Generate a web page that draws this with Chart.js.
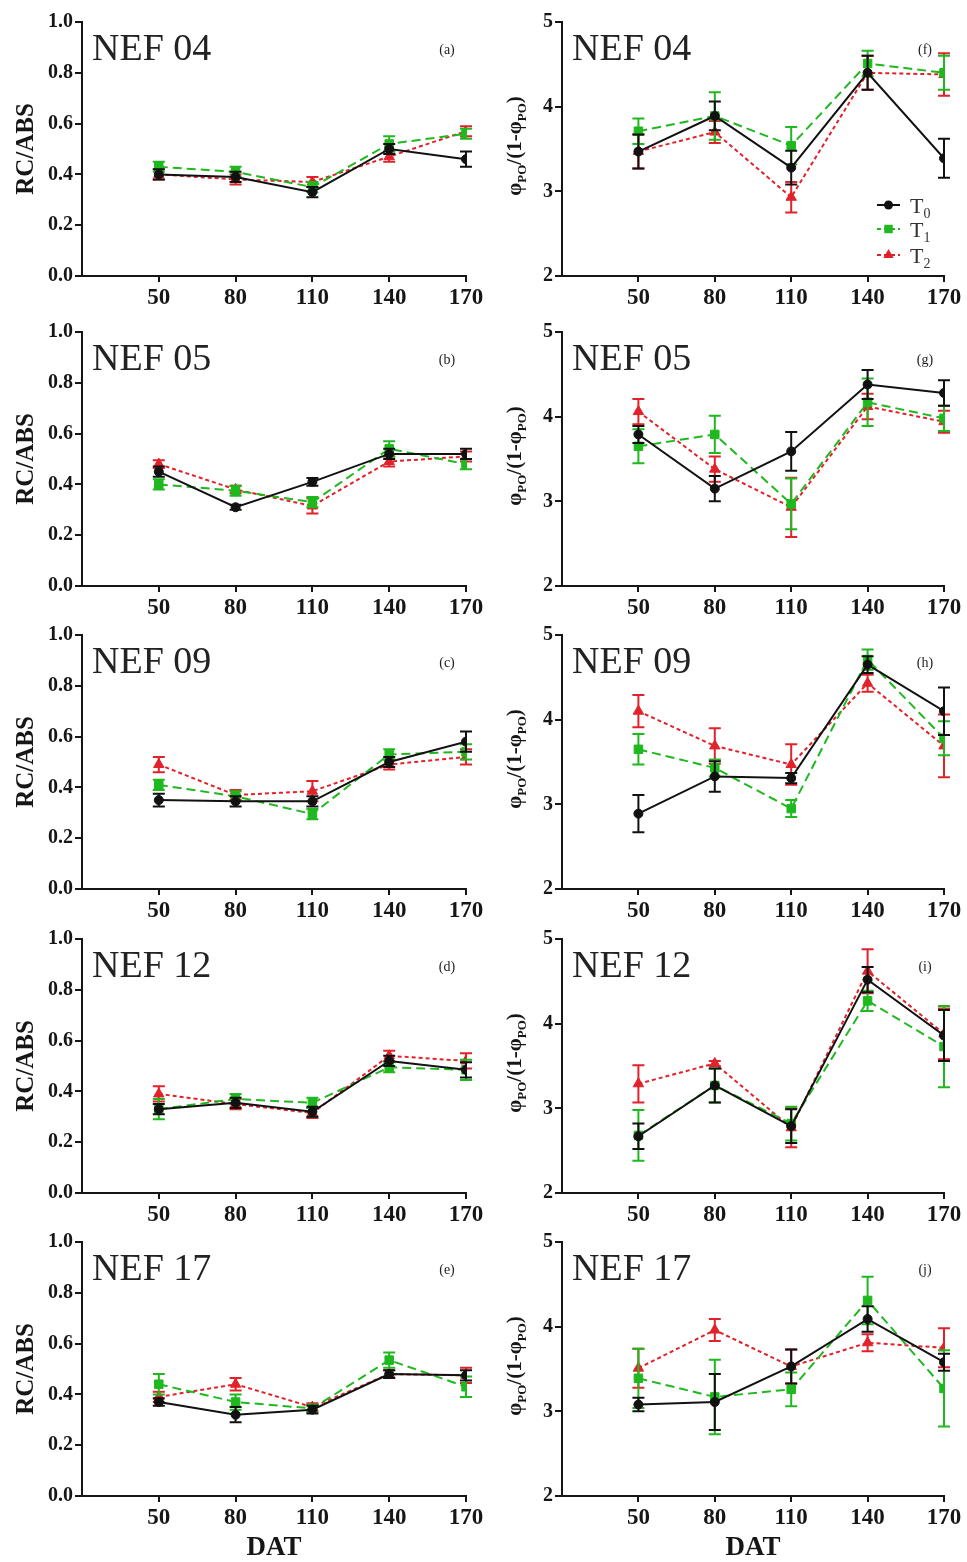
<!DOCTYPE html>
<html>
<head>
<meta charset="utf-8">
<script src="https://cdn.jsdelivr.net/npm/chart.js@4.4.1/dist/chart.umd.min.js"></script>
<style>
  html, body { margin: 0; padding: 0; background: #fff; overflow: hidden; }
  #wrap { position: relative; width: 967px; height: 1562px; background: #fff; }
  #wrap canvas { position: absolute; }
</style>
</head>
<body>
<div id="wrap"></div>
<script>
// ---- data ----
const DAT_TICKS = [50, 80, 110, 140, 170];
const CULTIVARS = ['NEF 04', 'NEF 05', 'NEF 09', 'NEF 12', 'NEF 17'];
const LETTERS_RC = ['(a)', '(b)', '(c)', '(d)', '(e)'];
const LETTERS_PHI = ['(f)', '(g)', '(h)', '(i)', '(j)'];
const TREATMENT_SUBS = ['0', '1', '2'];
const RC_TICKS = [0, 0.2, 0.4, 0.6, 0.8, 1.0];
const PHI_TICKS = [2, 3, 4, 5];

// RC/ABS, one row per cultivar
const RC_T0 = [
  [0.40, 0.39, 0.33, 0.50, 0.46],
  [0.45, 0.31, 0.41, 0.52, 0.52],
  [0.35, 0.345, 0.345, 0.50, 0.58],
  [0.33, 0.355, 0.32, 0.52, 0.485],
  [0.37, 0.32, 0.34, 0.48, 0.475]
];
const RC_T1 = [
  [0.43, 0.41, 0.35, 0.52, 0.56],
  [0.40, 0.375, 0.33, 0.54, 0.48],
  [0.41, 0.365, 0.295, 0.53, 0.54],
  [0.33, 0.37, 0.355, 0.495, 0.485],
  [0.44, 0.37, 0.345, 0.535, 0.43]
];
const RC_T2 = [
  [0.40, 0.38, 0.37, 0.47, 0.57],
  [0.48, 0.38, 0.315, 0.49, 0.51],
  [0.49, 0.37, 0.385, 0.49, 0.52],
  [0.39, 0.35, 0.315, 0.54, 0.52],
  [0.39, 0.44, 0.35, 0.48, 0.475]
];
const RC_T0_ERR = [
  [0.02, 0.02, 0.02, 0.02, 0.03],
  [0.02, 0.01, 0.015, 0.02, 0.02],
  [0.025, 0.02, 0.02, 0.02, 0.04],
  [0.02, 0.02, 0.02, 0.02, 0.03],
  [0.015, 0.03, 0.015, 0.015, 0.02]
];
const RC_T1_ERR = [
  [0.02, 0.02, 0.02, 0.03, 0.02],
  [0.02, 0.02, 0.02, 0.03, 0.02],
  [0.02, 0.02, 0.02, 0.02, 0.03],
  [0.04, 0.02, 0.02, 0.02, 0.04],
  [0.04, 0.03, 0.015, 0.03, 0.04]
];
const RC_T2_ERR = [
  [0.02, 0.02, 0.02, 0.02, 0.02],
  [0.015, 0.015, 0.03, 0.02, 0.02],
  [0.03, 0.02, 0.04, 0.02, 0.03],
  [0.03, 0.02, 0.02, 0.02, 0.03],
  [0.02, 0.025, 0.015, 0.015, 0.03]
];

// phiPO/(1-phiPO), one row per cultivar
const PHI_T0 = [
  [3.47, 3.89, 3.28, 4.40, 3.39],
  [3.79, 3.15, 3.59, 4.38, 4.28],
  [2.89, 3.33, 3.31, 4.65, 4.10],
  [2.67, 3.27, 2.79, 4.52, 3.86],
  [3.08, 3.11, 3.53, 4.09, 3.58]
];
const PHI_T1 = [
  [3.71, 3.89, 3.54, 4.51, 4.40],
  [3.65, 3.79, 2.97, 4.17, 3.98],
  [3.65, 3.43, 2.95, 4.71, 3.78],
  [2.68, 3.27, 2.82, 4.27, 3.73],
  [3.39, 3.17, 3.26, 4.31, 3.27]
];
const PHI_T2 = [
  [3.47, 3.70, 2.93, 4.40, 4.38],
  [4.06, 3.38, 2.93, 4.12, 3.94],
  [4.10, 3.69, 3.47, 4.43, 3.69],
  [3.29, 3.53, 2.77, 4.62, 3.88],
  [3.51, 3.96, 3.53, 3.81, 3.75]
];
const PHI_T0_ERR = [
  [0.20, 0.17, 0.20, 0.20, 0.23],
  [0.10, 0.15, 0.23, 0.17, 0.15],
  [0.22, 0.18, 0.06, 0.10, 0.28],
  [0.15, 0.20, 0.20, 0.15, 0.30],
  [0.08, 0.33, 0.20, 0.15, 0.10]
];
const PHI_T1_ERR = [
  [0.15, 0.28, 0.22, 0.15, 0.20],
  [0.20, 0.22, 0.30, 0.28, 0.15],
  [0.18, 0.10, 0.10, 0.12, 0.20],
  [0.30, 0.20, 0.20, 0.12, 0.48],
  [0.35, 0.44, 0.20, 0.28, 0.45]
];
const PHI_T2_ERR = [
  [0.20, 0.13, 0.18, 0.20, 0.25],
  [0.15, 0.15, 0.35, 0.15, 0.13],
  [0.19, 0.21, 0.24, 0.10, 0.37],
  [0.22, 0.03, 0.23, 0.26, 0.30],
  [0.23, 0.13, 0.20, 0.10, 0.23]
];

// ---- layout and style ----
const SERIF = '"Liberation Serif", "Times New Roman", serif';
const INK = '#161616';
const ROW_TOP = [20, 330, 633, 937, 1240];
const PLOT_H = 256;
const PAD_TOP = 12;
const Y_AXIS_W = 82;

const STYLE = [
  { color: '#111111', dash: [], point: 'circle', radius: 4.5 },
  { color: '#1fb81f', dash: [9, 5], point: 'rect', radius: 6 },
  { color: '#e2222b', dash: [4, 3], point: 'triangle', radius: 6 }
];

const wrap = document.getElementById('wrap');

// vertical error bars with caps, drawn under each line
const errorBars = {
  id: 'errorBars',
  beforeDatasetDraw(chart, args) {
    const ds = chart.data.datasets[args.index];
    if (!ds.errors) return;
    const yScale = chart.scales.y;
    const ctx = chart.ctx;
    ctx.save();
    ctx.strokeStyle = ds.borderColor;
    ctx.lineWidth = 2;
    ctx.setLineDash([]);
    args.meta.data.forEach((pt, i) => {
      const v = ds.data[i].y;
      const e = ds.errors[i];
      const top = yScale.getPixelForValue(v + e);
      const bot = yScale.getPixelForValue(v - e);
      ctx.beginPath();
      ctx.moveTo(pt.x, top); ctx.lineTo(pt.x, bot);
      ctx.moveTo(pt.x - 6, top); ctx.lineTo(pt.x + 6, top);
      ctx.moveTo(pt.x - 6, bot); ctx.lineTo(pt.x + 6, bot);
      ctx.stroke();
    });
    ctx.restore();
  }
};

function drawMarker(ctx, style, x, y) {
  const r = style.radius;
  ctx.fillStyle = style.color;
  ctx.beginPath();
  if (style.point === 'circle') {
    ctx.arc(x, y, r, 0, Math.PI * 2);
  } else if (style.point === 'rect') {
    const s = r * Math.SQRT1_2;
    ctx.rect(x - s, y - s, s * 2, s * 2);
  } else {
    const h = r * 1.5;
    ctx.moveTo(x, y - r);
    ctx.lineTo(x + h * 0.577, y + r * 0.5);
    ctx.lineTo(x - h * 0.577, y + r * 0.5);
    ctx.closePath();
  }
  ctx.fill();
}

// draws a run of [text, isSub] pieces starting at x on baseline y
function runWidth(ctx, parts, big, small) {
  let w = 0;
  parts.forEach(([t, sub]) => { ctx.font = sub ? small : big; w += ctx.measureText(t).width; });
  return w;
}
function drawRun(ctx, parts, x, y, big, small, subShift) {
  parts.forEach(([t, sub]) => {
    ctx.font = sub ? small : big;
    ctx.fillText(t, x, sub ? y + subShift : y);
    x += ctx.measureText(t).width;
  });
}

// cultivar name, panel letter, phi axis title, legend
const panelText = {
  id: 'panelText',
  afterDraw(chart, args, opts) {
    const ctx = chart.ctx;
    const area = chart.chartArea;
    ctx.save();
    ctx.fillStyle = '#222';
    ctx.textAlign = 'left';
    ctx.textBaseline = 'alphabetic';
    ctx.font = '38px ' + SERIF;
    ctx.fillText(opts.name, area.left + 10, area.top + 38);

    ctx.font = '14px ' + SERIF;
    ctx.textAlign = 'center';
    ctx.textBaseline = 'middle';
    ctx.fillText(opts.letter, area.right - 19, area.top + 28);

    if (opts.phiTitle) {
      const big = 'bold 21px ' + SERIF;
      const small = 'bold 13px ' + SERIF;
      const parts = [['\u03C6', false], ['PO', true], ['/(1-\u03C6', false], ['PO', true], [')', false]];
      ctx.textAlign = 'left';
      ctx.textBaseline = 'alphabetic';
      ctx.fillStyle = INK;
      const w = runWidth(ctx, parts, big, small);
      ctx.translate(34, (area.top + area.bottom) / 2 - 3);
      ctx.rotate(-Math.PI / 2);
      drawRun(ctx, parts, -w / 2, 7, big, small, 5);
      ctx.setTransform(1, 0, 0, 1, 0, 0);
    }

    if (opts.legend) {
      const rows = [183, 207, 233];
      STYLE.forEach((s, k) => {
        const y = area.top + rows[k];
        const x0 = area.right - 67;
        const x1 = area.right - 44;
        ctx.strokeStyle = s.color;
        ctx.lineWidth = 2;
        ctx.setLineDash(s.dash.length ? [4, 3] : []);
        ctx.beginPath();
        ctx.moveTo(x0, y); ctx.lineTo(x1, y);
        ctx.stroke();
        ctx.setLineDash([]);
        drawMarker(ctx, s, (x0 + x1) / 2, y);
        ctx.fillStyle = '#333';
        ctx.textAlign = 'left';
        ctx.textBaseline = 'alphabetic';
        drawRun(ctx, [['T', false], [TREATMENT_SUBS[k], true]], area.right - 34, y + 8,
          '22px ' + SERIF, '14px ' + SERIF, 5);
      });
    }
    ctx.restore();
  }
};

function makeChart(col, row) {
  const isRc = col === 0;
  const last = row === CULTIVARS.length - 1;
  const left = isRc ? 0 : 480;
  const width = isRc ? 490 : 487;
  const padRight = isRc ? 24 : 23;
  const xh = last ? 66 : 34;

  const canvas = document.createElement('canvas');
  canvas.width = width;
  canvas.height = PAD_TOP + PLOT_H + xh;
  canvas.style.left = left + 'px';
  canvas.style.top = (ROW_TOP[row] - PAD_TOP) + 'px';
  wrap.appendChild(canvas);

  const means = isRc ? [RC_T0, RC_T1, RC_T2] : [PHI_T0, PHI_T1, PHI_T2];
  const errs = isRc ? [RC_T0_ERR, RC_T1_ERR, RC_T2_ERR] : [PHI_T0_ERR, PHI_T1_ERR, PHI_T2_ERR];
  const yTicks = isRc ? RC_TICKS : PHI_TICKS;

  new Chart(canvas, {
    type: 'line',
    data: {
      datasets: STYLE.map((s, k) => ({
        label: 'T' + TREATMENT_SUBS[k],
        data: DAT_TICKS.map((d, i) => ({ x: d, y: means[k][row][i] })),
        errors: errs[k][row],
        borderColor: s.color,
        backgroundColor: s.color,
        borderWidth: 2,
        borderDash: s.dash,
        pointStyle: s.point,
        pointRadius: s.radius,
        pointBorderWidth: 1,
        pointBackgroundColor: s.color,
        pointBorderColor: s.color,
        tension: 0,
        fill: false
      }))
    },
    options: {
      responsive: false,
      animation: false,
      devicePixelRatio: 1,
      layout: { padding: { left: 0, top: PAD_TOP, right: padRight, bottom: 0 } },
      plugins: {
        legend: { display: false },
        tooltip: { enabled: false },
        panelText: {
          name: CULTIVARS[row],
          letter: isRc ? LETTERS_RC[row] : LETTERS_PHI[row],
          phiTitle: !isRc,
          legend: !isRc && row === 0
        }
      },
      scales: {
        x: {
          type: 'linear',
          min: 20,
          max: 170,
          afterBuildTicks: sc => { sc.ticks = DAT_TICKS.map(v => ({ value: v })); },
          afterFit: sc => { sc.height = xh; },
          grid: { display: true, drawOnChartArea: false, drawTicks: true, tickLength: 6, color: INK, lineWidth: 2 },
          border: { display: true, color: INK, width: 2 },
          ticks: {
            font: { family: SERIF, size: 23, weight: 'bold' },
            color: INK, padding: 2, maxRotation: 0, autoSkip: false
          },
          title: {
            display: last, text: 'DAT', color: INK,
            font: { family: SERIF, size: 27, weight: 'bold', lineHeight: 1 },
            padding: { top: 0, bottom: 0 }
          }
        },
        y: {
          min: yTicks[0],
          max: yTicks[yTicks.length - 1],
          afterBuildTicks: sc => { sc.ticks = yTicks.map(v => ({ value: v })); },
          afterFit: sc => { sc.width = Y_AXIS_W; },
          grid: { display: true, drawOnChartArea: false, drawTicks: true, tickLength: 7, color: INK, lineWidth: 2 },
          border: { display: true, color: INK, width: 2 },
          ticks: {
            font: { family: SERIF, size: 20, weight: 'bold' },
            color: INK, padding: 2,
            callback: v => isRc ? Number(v).toFixed(1) : String(v)
          },
          title: {
            display: isRc, text: 'RC/ABS', color: INK,
            font: { family: SERIF, size: 25, weight: 'bold' },
            padding: { top: 12, bottom: 0 }
          }
        }
      }
    },
    plugins: [errorBars, panelText]
  });
}

for (let row = 0; row < CULTIVARS.length; row++) {
  makeChart(0, row);
  makeChart(1, row);
}
</script>
</body>
</html>
